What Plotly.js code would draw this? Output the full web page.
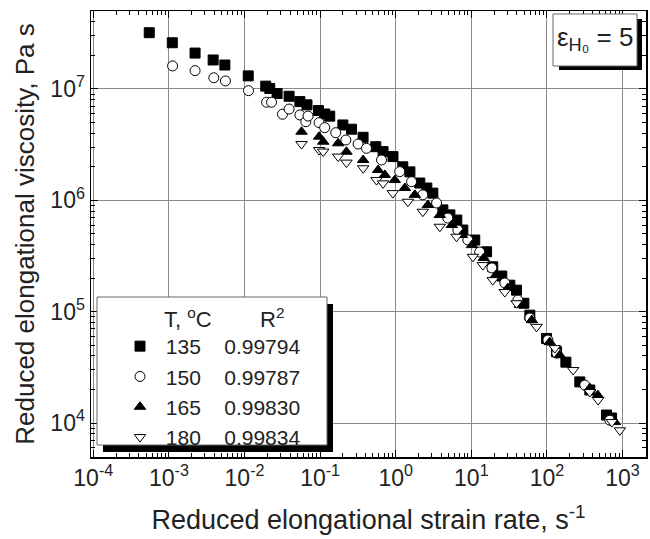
<!DOCTYPE html>
<html><head><meta charset="utf-8">
<script src="https://cdn.plot.ly/plotly-3.0.1.min.js"></script>
<style>body{margin:0;padding:0;background:#fff;} #chart{width:650px;height:539px;}</style>
</head><body><div id="chart"></div>
<script>
// Legend categories
const temps = ['135', '150', '165', '180'];
const r2vals = ['0.99794', '0.99787', '0.99830', '0.99834'];

// Tick labels
const xTickVals = [1e-4, 1e-3, 1e-2, 1e-1, 1e0, 1e1, 1e2, 1e3];
const xTickText = ['10<sup>-4</sup>', '10<sup>-3</sup>', '10<sup>-2</sup>', '10<sup>-1</sup>', '10<sup>0</sup>', '10<sup>1</sup>', '10<sup>2</sup>', '10<sup>3</sup>'];
const yTickVals = [1e4, 1e5, 1e6, 1e7];
const yTickText = ['10<sup>4</sup>', '10<sup>5</sup>', '10<sup>6</sup>', '10<sup>7</sup>'];

// T = 135 °C (filled squares)
const x135 = [5.5e-4, 1.11e-3, 2.22e-3, 3.85e-3, 5.5e-3, 0.0112, 0.0191, 0.0216, 0.027, 0.0389, 0.054, 0.067, 0.095, 0.115, 0.134, 0.20, 0.26, 0.37, 0.545, 0.68, 0.92, 1.24, 1.54, 2.08, 2.58, 3.10, 4.20, 5.2, 6.43, 7.72, 11.1, 15.9, 19.2, 25.3, 32.3, 39.6, 49.5, 59.4, 98.8, 134, 178, 272, 369, 614, 715];
const y135 = [3.2e7, 2.6e7, 2.1e7, 1.82e7, 1.64e7, 1.31e7, 1.06e7, 1.01e7, 9.1e6, 8.6e6, 7.7e6, 7.2e6, 6.4e6, 5.96e6, 5.7e6, 4.75e6, 4.35e6, 3.68e6, 3.03e6, 2.74e6, 2.47e6, 2.0e6, 1.80e6, 1.43e6, 1.29e6, 1.16e6, 8.2e5, 7.4e5, 6.65e5, 5.41e5, 4.4e5, 3.45e5, 2.53e5, 2.09e5, 1.73e5, 1.56e5, 1.19e5, 9.3e4, 5.75e4, 4.36e4, 3.52e4, 2.34e4, 1.98e4, 1.18e4, 1.11e4];

// T = 150 °C (open circles)
const x150 = [1.12e-3, 2.22e-3, 3.93e-3, 5.6e-3, 0.0113, 0.0196, 0.0228, 0.0318, 0.0389, 0.054, 0.0647, 0.0693, 0.097, 0.115, 0.161, 0.219, 0.318, 0.411, 0.649, 1.13, 1.62, 2.28, 3.47, 4.89, 6.63, 8.99, 12.9, 18.7, 27.7, 41.2, 59.4, 103, 135, 317, 679];
const y150 = [1.61e7, 1.46e7, 1.26e7, 1.18e7, 9.66e6, 7.6e6, 7.6e6, 5.93e6, 6.6e6, 5.84e6, 5.08e6, 5.71e6, 4.98e6, 4.49e6, 4.05e6, 3.48e6, 3.2e6, 2.93e6, 2.3e6, 1.81e6, 1.47e6, 1.12e6, 9.46e5, 6.93e5, 5.41e5, 4.4e5, 3.43e5, 2.47e5, 1.81e5, 1.27e5, 8.77e4, 5.56e4, 4.25e4, 2.19e4, 1.06e4];

// T = 165 °C (filled up-triangles)
const x165 = [0.0568, 0.097, 0.11, 0.173, 0.223, 0.371, 0.585, 0.718, 0.973, 1.32, 1.79, 2.66, 3.83, 5.52, 7.49, 10.2, 14.6, 21.1, 30.4, 43.8, 63.1, 109, 148, 369, 471, 792];
const y165 = [4.13e6, 3.73e6, 3.36e6, 3.25e6, 2.73e6, 2.3e6, 1.87e6, 1.69e6, 1.52e6, 1.29e6, 1.12e6, 9.07e5, 7.38e5, 6.0e5, 4.88e5, 3.96e5, 3.03e5, 2.13e5, 1.63e5, 1.15e5, 8.4e4, 5.33e4, 4.07e4, 2.06e4, 1.78e4, 1.02e4];

// T = 180 °C (open down-triangles)
const x180 = [0.0568, 0.097, 0.11, 0.173, 0.223, 0.371, 0.557, 0.68, 0.916, 1.45, 2.28, 3.83, 6.37, 10.5, 14.2, 19.2, 27.7, 39.6, 72.8, 127, 222, 369, 475, 721, 921];
const y180 = [3.2e6, 2.83e6, 2.74e6, 2.47e6, 2.18e6, 1.94e6, 1.52e6, 1.42e6, 1.16e6, 9.71e5, 7.9e5, 5.79e5, 4.71e5, 3.11e5, 2.62e5, 1.92e5, 1.5e5, 1.19e5, 7.31e4, 4.71e4, 2.99e4, 1.9e4, 1.61e4, 1.02e4, 8.6e3];

const FONT = 'Liberation Sans, Arial, Helvetica, sans-serif';
const NB = '\u00a0';

const seriesX = [x135, x150, x165, x180];
const seriesY = [y135, y150, y165, y180];
const symbols = ['square', 'circle', 'triangle-up', 'triangle-down'];
const fills = ['#000', '#fff', '#000', '#fff'];

const traces = temps.map((t, i) => ({
  type: 'scatter', mode: 'markers',
  x: seriesX[i], y: seriesY[i],
  name: NB + t + NB.repeat(4) + r2vals[i],
  marker: {symbol: symbols[i], size: 10, color: fills[i], line: {color: '#000', width: 1}},
  cliponaxis: false
}));

// plot area in pixels
const L = 91, R = 646, T = 11, B = 457, W = 650, H = 539;
const px = v => (v - L) / (R - L);
const py = v => (B - v) / (B - T);

const axisCommon = {
  type: 'log', showline: true, linecolor: '#000', linewidth: 1.5, mirror: 'ticks',
  ticks: 'inside', ticklen: 7, tickwidth: 1, tickcolor: '#000',
  showgrid: true, gridcolor: '#8a8a8a', gridwidth: 1, zeroline: false,
  tickmode: 'array',
  tickfont: {family: FONT, size: 23, color: '#222'},
  minor: {ticks: 'inside', ticklen: 4, tickwidth: 1, tickcolor: '#000', dtick: 'D1', showgrid: false}
};

const layout = {
  width: W, height: H,
  margin: {l: L, r: W - R, t: T, b: H - B},
  paper_bgcolor: '#fff', plot_bgcolor: '#fff',
  font: {family: FONT, color: '#222'},
  showlegend: true,
  legend: {
    x: px(120), y: py(326), xanchor: 'left', yanchor: 'top',
    bgcolor: 'rgba(0,0,0,0)', borderwidth: 0,
    font: {family: FONT, size: 21, color: '#222'},
    tracegroupgap: 0, itemwidth: 30
  },
  xaxis: Object.assign({}, axisCommon, {
    range: [-4.03, 3.31], tickvals: xTickVals, ticktext: xTickText,
    title: {text: 'Reduced elongational strain rate, s<sup>-1</sup>', font: {family: FONT, size: 27, color: '#222'}, standoff: 20}
  }),
  yaxis: Object.assign({}, axisCommon, {
    range: [3.695, 7.70], tickvals: yTickVals, ticktext: yTickText,
    title: {text: 'Reduced elongational viscosity, Pa s', font: {family: FONT, size: 26, color: '#222'}, standoff: 8}
  }),
  shapes: [
    // legend box shadow + box
    {type: 'rect', xref: 'paper', yref: 'paper', x0: px(103), x1: px(333), y0: py(304), y1: py(452), fillcolor: '#000', line: {width: 0}, layer: 'above'},
    {type: 'rect', xref: 'paper', yref: 'paper', x0: px(97), x1: px(327), y0: py(297), y1: py(445), fillcolor: '#fff', line: {color: '#666', width: 1}, layer: 'above'},
    // epsilon box shadow + box
    {type: 'rect', xref: 'paper', yref: 'paper', x0: px(559), x1: px(642), y0: py(19), y1: py(70), fillcolor: '#000', line: {width: 0}, layer: 'above'},
    {type: 'rect', xref: 'paper', yref: 'paper', x0: px(553), x1: px(637), y0: py(14), y1: py(66), fillcolor: '#fff', line: {color: '#666', width: 1}, layer: 'above'}
  ],
  annotations: [
    {xref: 'paper', yref: 'paper', x: px(188), y: py(318), text: 'T, <sup>o</sup>C', showarrow: false, font: {family: FONT, size: 22, color: '#222'}, xanchor: 'center', yanchor: 'middle'},
    {xref: 'paper', yref: 'paper', x: px(272), y: py(318), text: 'R<sup>2</sup>', showarrow: false, font: {family: FONT, size: 22, color: '#222'}, xanchor: 'center', yanchor: 'middle'},
    {xref: 'paper', yref: 'paper', x: px(595), y: py(39), text: 'ε<sub>H₀</sub> = 5', showarrow: false, font: {family: FONT, size: 26, color: '#222'}, xanchor: 'center', yanchor: 'middle'}
  ]
};

Plotly.newPlot('chart', traces, layout, {staticPlot: true, displayModeBar: false});
</script>
</body></html>
